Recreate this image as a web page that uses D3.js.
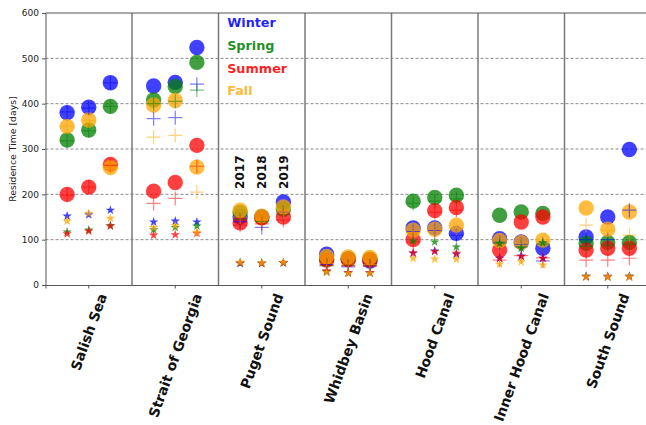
<!DOCTYPE html>
<html><head><meta charset="utf-8">
<script src="https://cdn.jsdelivr.net/npm/d3@7"></script>
<style>body{margin:0;background:#fff;} svg{display:block;}</style>
</head><body><svg id="c" width="646" height="425"></svg>
<script>
const regions = ["Salish Sea","Strait of Georgia","Puget Sound","Whidbey Basin","Hood Canal","Inner Hood Canal","South Sound"];
const years = ["2017","2018","2019"];
const seasons = ["Winter","Spring","Summer","Fall"];
const seasonColors = ["#0000ff","#008000","#ff0000","#ffa500"];
const yTicks = [0,100,200,300,400,500,600];

// circle markers: [region][year]
const circWinter = [[380,392,446],[439,447,524],[150,150,183],[68,58,53],[126,126,114],[102,95,81],[106,150,299]];
const circSpring = [[320,342,394],[408,438,491],[160,150,167],[57,57,57],[185,193,198],[154,161,158],[92,94,94]];
const circSummer = [[200,216,266],[207,226,308],[137,148,150],[55,56,55],[100,164,171],[77,139,150],[77,81,81]];
const circFall   = [[350,364,259],[397,407,260],[165,152,172],[63,62,61],[121,123,132],[98,94,99],[170,123,161]];
// cross markers
const crossWinter = [[382,390,446],[367,369,443],[140,127,160],[45,40,42],[118,120,110],[95,90,53],[100,100,165]];
const crossSpring = [[318,340,394],[400,405,430],[145,140,155],[42,43,43],[180,185,190],[92,84,90],[85,88,90]];
const crossSummer = [[198,216,264],[180,191,262],[132,135,143],[43,42,42],[95,160,165],[55,65,60],[55,55,59]];
const crossFall   = [[350,362,258],[326,330,205],[150,145,160],[48,46,45],[115,118,125],[96,92,96],[132,120,110]];
// star markers
const starWinter = [[152,155,165],[139,141,139],[48,48,49],[30,27,27],[70,75,68],[59,64,59],[19,19,19]];
const starSpring = [[117,121,131],[122,127,130],[48,48,49],[29,26,26],[97,95,84],[92,81,93],[19,18,19]];
const starSummer = [[113,119,130],[110,111,114],[49,48,49],[31,27,27],[71,74,70],[59,63,59],[18,18,18]];
const starFall   = [[141,158,147],[127,131,116],[50,49,50],[28,26,26],[59,57,57],[46,51,44],[18,18,18]];

const circles = [circWinter, circSpring, circSummer, circFall];
const crosses = [crossWinter, crossSpring, crossSummer, crossFall];
const stars = [starWinter, starSpring, starSummer, starFall];

const svg = d3.select("#c");
const pLeft = 45.5, pRight = 651, pTop = 13, pBottom = 285;

const x = d3.scaleBand().domain(regions).range([pLeft, pRight]).padding(0);
const bw = x.bandwidth();
const xYear = d3.scalePoint().domain(years).range([bw*0.25, bw*0.75]);
const y = d3.scaleLinear().domain([0, 600]).range([pBottom, pTop]);
const color = d3.scaleOrdinal().domain(seasons).range(seasonColors);

const font = "DejaVu Sans, Liberation Sans, sans-serif";

// grid
svg.append("g").selectAll("line").data(yTicks.filter(v => v > 0 && v < 600)).join("line")
  .attr("x1", pLeft).attr("x2", pRight).attr("y1", d => y(d)).attr("y2", d => y(d))
  .attr("stroke", "#8a8a8a").attr("stroke-width", 1).attr("stroke-dasharray", "3,2");

// panel separators
svg.append("g").selectAll("line").data(regions.slice(1)).join("line")
  .attr("x1", d => x(d)).attr("x2", d => x(d)).attr("y1", pTop).attr("y2", pBottom)
  .attr("stroke", "#7a7a7a").attr("stroke-width", 1.5);

function flatten(arrs) {
  const out = [];
  arrs.forEach((arr, si) => arr.forEach((row, ri) => row.forEach((v, yi) => {
    out.push({season: seasons[si], region: regions[ri], year: years[yi], value: v});
  })));
  return out;
}
const px = d => x(d.region) + xYear(d.year);

const gm = svg.append("g");
gm.selectAll("circle").data(flatten(circles)).join("circle")
  .attr("cx", px).attr("cy", d => y(d.value)).attr("r", 7.7)
  .attr("fill", d => color(d.season)).attr("fill-opacity", 0.75);

gm.append("g").selectAll("path").data(flatten(crosses)).join("path")
  .attr("transform", d => `translate(${px(d)},${y(d.value)})`)
  .attr("d", "M-7,0H7M0,-7V7")
  .attr("stroke", d => color(d.season)).attr("stroke-width", 1.2).attr("stroke-opacity", 0.5).attr("fill", "none");

const starPath = d3.symbol(d3.symbolStar, 28)();
gm.append("g").selectAll("path").data(flatten(stars)).join("path")
  .attr("transform", d => `translate(${px(d)},${y(d.value)})`)
  .attr("d", starPath)
  .attr("fill", d => color(d.season)).attr("fill-opacity", 0.75);

// axes
const ya = svg.append("g").attr("transform", `translate(${pLeft},0)`)
  .call(d3.axisLeft(y).tickValues(yTicks).tickSize(3.5).tickPadding(3));
ya.select(".domain").attr("stroke", "#555");
ya.selectAll(".tick line").attr("stroke", "#555");
ya.selectAll("text").attr("font-family", font).attr("font-size", 9).attr("fill", "#222");

const xa = svg.append("g").attr("transform", `translate(0,${pBottom})`)
  .call(d3.axisBottom(x).tickSize(3.5).tickFormat(""));
xa.select(".domain").attr("stroke", "#555");
xa.selectAll(".tick line").attr("stroke", "#555");

// top spine
svg.append("line").attr("x1", pLeft).attr("x2", pRight).attr("y1", pTop).attr("y2", pTop)
  .attr("stroke", "#555").attr("stroke-width", 1);

// x labels rotated 70 deg, bbox centered on tick
const ang = 70 * Math.PI / 180;
const fs = 13.9;
regions.forEach(r => {
  const t = svg.append("text").text(r)
    .attr("font-family", font).attr("font-weight", "bold").attr("font-size", fs)
    .attr("fill", "#111").attr("text-anchor", "middle").attr("dominant-baseline", "central");
  const L = t.node().getComputedTextLength();
  const h = fs * 1.0;
  const H = L * Math.sin(ang) + h * Math.cos(ang);
  const cx = x(r) + bw / 2, cy = pBottom + 6.5 + H / 2;
  t.attr("transform", `translate(${cx},${cy}) rotate(-70)`);
});

// y label
svg.append("text").text("Residence Time [days]")
  .attr("font-family", font).attr("font-size", 9.3).attr("fill", "#222")
  .attr("text-anchor", "middle")
  .attr("transform", `translate(13,${(pTop + pBottom) / 2}) rotate(-90)`)
  .attr("dy", "0.35em");

// legend
const lx = x("Puget Sound") + bw * 0.1;
seasons.forEach((s, i) => {
  svg.append("text").text(s)
    .attr("x", lx).attr("y", 27.3 + i * 22.6)
    .attr("font-family", font).attr("font-weight", "bold").attr("font-size", 12.8)
    .attr("fill", color(s)).attr("fill-opacity", i === 3 ? 0.8 : 0.88);
});

// year labels
years.forEach(yr => {
  svg.append("text").text(yr)
    .attr("font-family", font).attr("font-weight", "bold").attr("font-size", 12)
    .attr("fill", "#111").attr("dy", "0.36em")
    .attr("transform", `translate(${x("Puget Sound") + xYear(yr)},${y(212)}) rotate(-90)`);
});
</script></body></html>
